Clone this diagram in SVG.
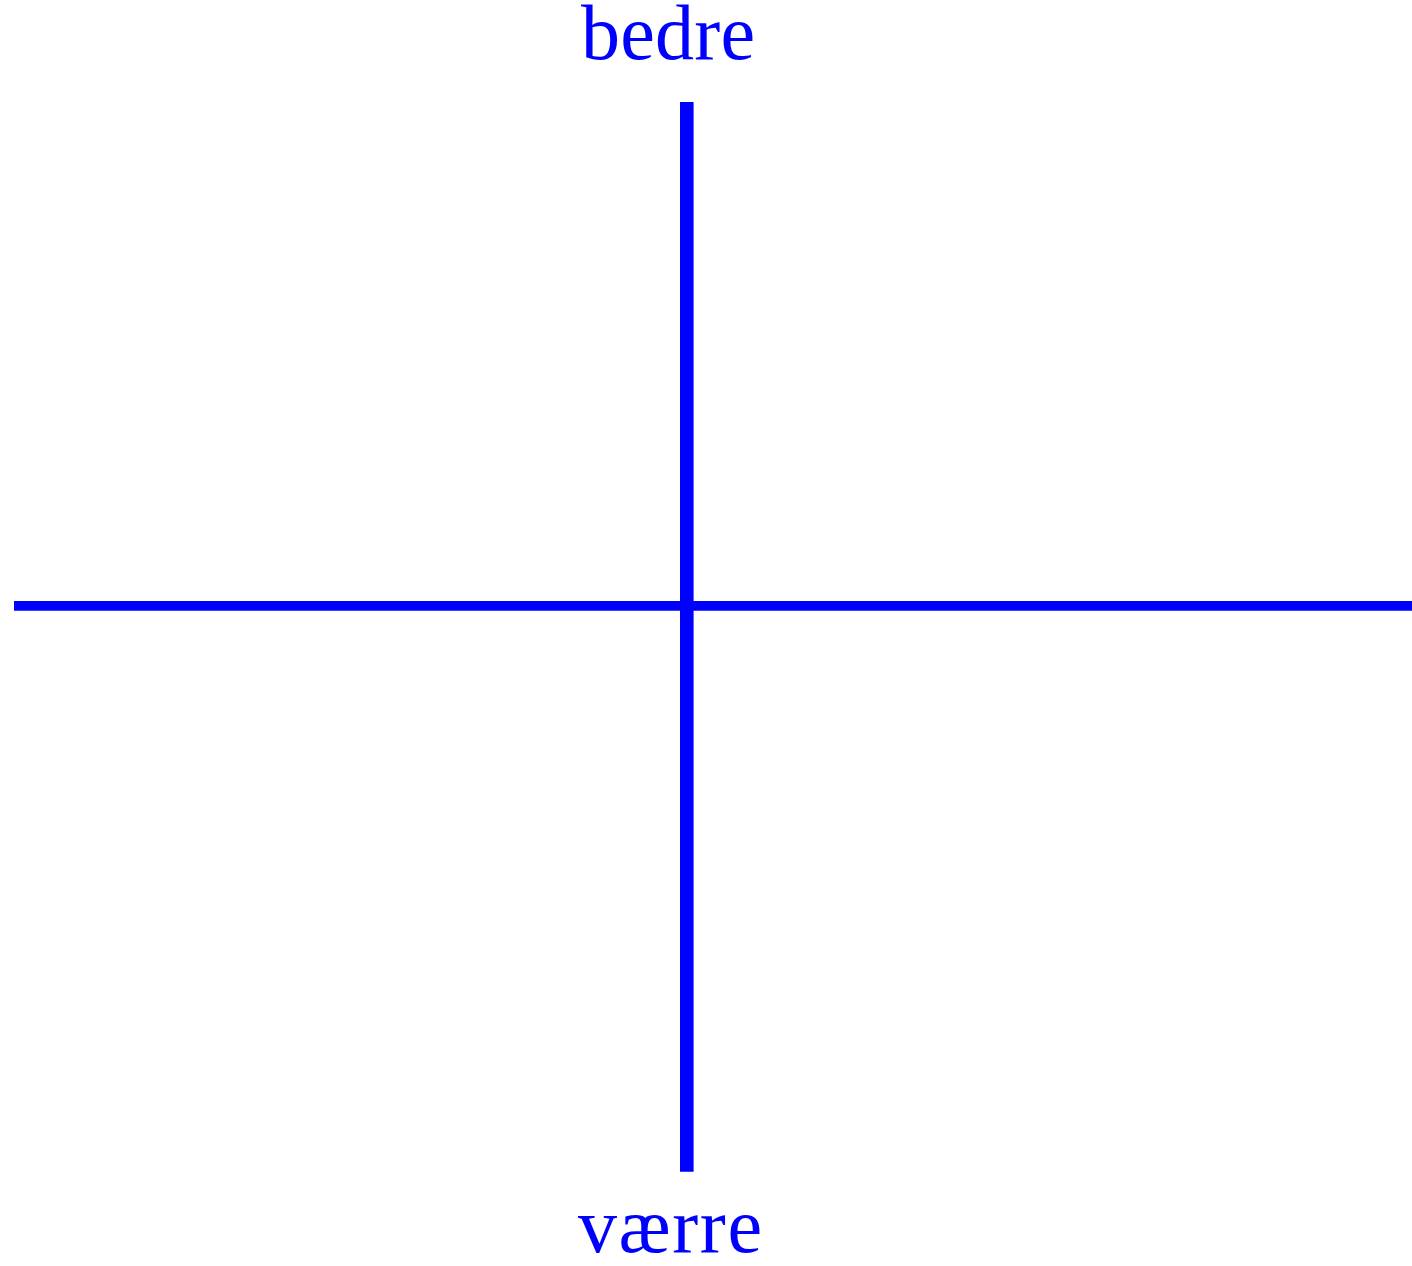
<svg xmlns="http://www.w3.org/2000/svg" width="1412" height="1266" viewBox="0 0 1412 1266">
<style>
.lbl{font-family:"Liberation Serif","Times New Roman",serif;font-size:78px;fill:#0000ff;text-anchor:middle}
.ax{stroke:#0000ff;fill:none}
</style>
<rect width="1412" height="1266" fill="#ffffff"/>
<g id="connectors">
<line class="ax" x1="14" y1="605.8" x2="1412" y2="605.8" stroke-width="9.7"/>
<line class="ax" x1="686.8" y1="102" x2="686.8" y2="1171.7" stroke-width="13.6"/>
</g>
<g id="top-label"><text class="lbl" x="668" y="59" textLength="174" lengthAdjust="spacing">bedre</text></g>
<g id="bottom-label"><text class="lbl" x="670" y="1252" textLength="184" lengthAdjust="spacing">værre</text></g>
</svg>
